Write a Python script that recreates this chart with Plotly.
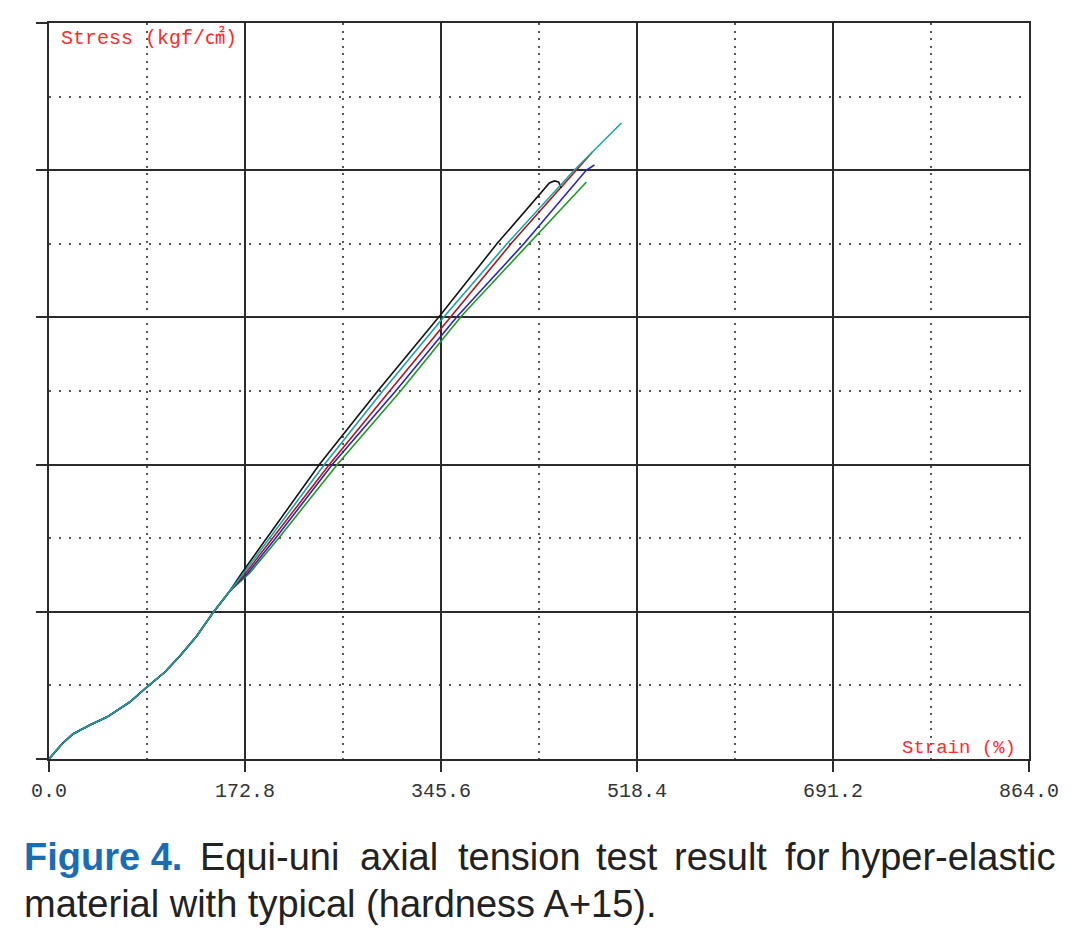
import plotly.graph_objects as go

# strain (%) / stress values
# the five specimens share the same start up to ~160 %
start_strain = [0, 5.3, 11.4, 21.1, 36.1, 51.1, 71.3, 86.3, 102.2, 115.4, 130.3, 144.4, 159.4]
start_stress = [0, 0.48, 1.02, 1.70, 2.31, 2.85, 3.87, 4.89, 5.91, 7.00, 8.36, 9.92, 11.41]

black_strain = [170.0, 192.0, 238.7, 289.8, 344.4, 395.4, 421.0, 441.2, 445.6, 449.2, 451.8]
black_stress = [12.64, 15.01, 20.04, 25.00, 30.10, 35.05, 37.30, 39.13, 39.27, 39.20, 38.79]

cyan_strain = [171.7, 194.6, 243.1, 294.2, 348.8, 404.3, 463.2, 504.7]
cyan_stress = [12.64, 15.01, 20.04, 25.00, 30.10, 35.05, 40.01, 43.21]

red_strain = [173.5, 197.3, 247.5, 300.3, 354.9, 407.8, 465.0, 479.1]
red_stress = [12.64, 15.01, 20.04, 25.00, 30.10, 35.05, 40.01, 41.24]

blue_strain = [175.3, 199.9, 250.1, 305.6, 360.2, 419.2, 473.8, 480.9]
blue_stress = [12.64, 15.01, 20.04, 25.00, 30.10, 35.05, 40.01, 40.35]

green_strain = [177.0, 202.6, 254.5, 310.0, 363.7, 423.6, 473.8]
green_stress = [12.64, 15.01, 20.04, 25.00, 30.10, 35.05, 39.20]

x_ticks = [0, 172.8, 345.6, 518.4, 691.2, 864.0]

series = [
    ("green", green_strain, green_stress, "#1f9a1f"),
    ("blue", blue_strain, blue_stress, "#2424c4"),
    ("red", red_strain, red_stress, "#b3141c"),
    ("black", black_strain, black_stress, "#111111"),
    ("cyan", cyan_strain, cyan_stress, "#1aa3a8"),
]

fig = go.Figure()
for name, xs, ys, col in series:
    fig.add_trace(go.Scatter(x=start_strain + xs, y=start_stress + ys, mode="lines",
                             name=name, line=dict(color=col, width=1.6)))

mono = "Liberation Mono, DejaVu Sans Mono, Noto Sans CJK KR"

fig.update_xaxes(range=[0, 864], tickvals=x_ticks, ticktext=["%.1f" % v for v in x_ticks],
                 showgrid=True, gridcolor="#2b2b2b", gridwidth=2,
                 zeroline=False, showline=True, mirror=True, linecolor="#2b2b2b", linewidth=2,
                 ticks="outside", ticklen=11, tickwidth=2, tickcolor="#2b2b2b",
                 ticklabelstandoff=1,
                 tickfont=dict(family=mono, size=20, color="#333333"),
                 minor=dict(dtick=86.4, showgrid=True, gridcolor="#555555", gridwidth=1.5,
                            griddash="2px,5.5px", ticks=""))
fig.update_yaxes(range=[0, 50], dtick=10, showticklabels=False,
                 showgrid=True, gridcolor="#2b2b2b", gridwidth=2,
                 zeroline=False, showline=True, mirror=True, linecolor="#2b2b2b", linewidth=2,
                 ticks="outside", ticklen=11, tickwidth=2, tickcolor="#2b2b2b",
                 minor=dict(dtick=5, showgrid=True, gridcolor="#555555", gridwidth=1.5,
                            griddash="2px,8px", ticks=""))

# page body has an 8px margin, so plot area lands at x 49..1029, y 23..759
fig.update_layout(width=1080, height=932, margin=dict(l=41, r=59, t=15, b=181),
                  paper_bgcolor="white", plot_bgcolor="white", showlegend=False)

# convert page pixel positions into paper coords
def px_to_paper(px, py):
    return (px - 49) / 980.0, 1 - (py - 23) / 736.0

def label(txt, px, py, anchor, size, col, family, bold=False):
    xx, yy = px_to_paper(px, py)
    if bold:
        txt = "<b>" + txt + "</b>"
    fig.add_annotation(x=xx, y=yy, xref="paper", yref="paper", text=txt, showarrow=False,
                       xanchor=anchor, yanchor="middle", font=dict(family=family, size=size, color=col))

# axis titles drawn inside the plot, red bitmap-like text
label("Stress (kgf/㎠)", 59, 38, "left", 20, "#ff2a2a", mono)
label("Strain (%)", 1018, 748, "right", 19, "#ff2a2a", mono)

# caption, first line laid out word by word to look justified
cap_font = "Liberation Sans, Arial"
line1 = [("Figure 4.", 22), ("Equi-uni", 198), ("axial", 358), ("tension", 456),
         ("test", 594), ("result", 672), ("for", 783)]
for i, (txt, px) in enumerate(line1):
    label(txt, px, 857, "left", 38, "#1b6db3" if i == 0 else "#222222", cap_font, bold=(i == 0))
label("hyper-elastic", 1057, 857, "right", 38, "#222222", cap_font)
label("material with typical (hardness A+15).", 22, 904, "left", 38, "#222222", cap_font)

fig.write_html("out.html")
